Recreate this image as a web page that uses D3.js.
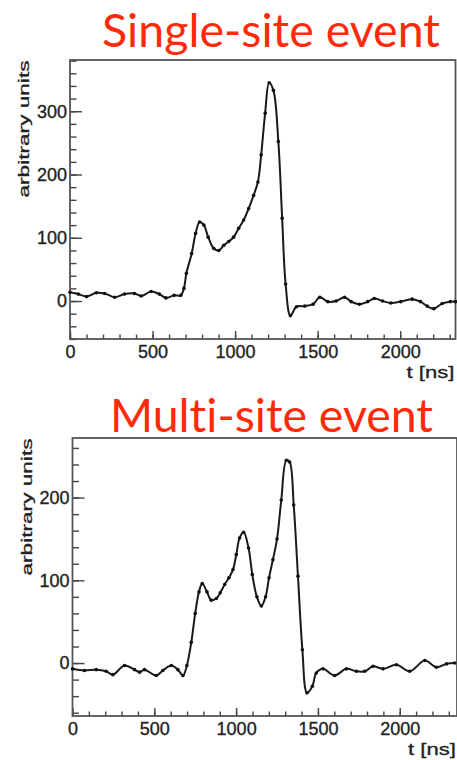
<!DOCTYPE html>
<html>
<head>
<meta charset="utf-8">
<script src="https://cdn.jsdelivr.net/npm/d3@7"></script>
<style>
  body { margin: 0; background: #fff; }
  svg { display: block; }
  .axis text { font-family: "Liberation Sans", Arial, sans-serif; font-size: 18px; fill: #222; stroke: #222; stroke-width: 0.35; }
  .axis line { stroke: #444; stroke-width: 1.4; }
  .title { font-family: Lato, "Open Sans", sans-serif; fill: #ff2a0a; font-variant-ligatures: none; font-feature-settings: "liga" 0, "clig" 0; }
  .axis-title { font-family: "Liberation Sans", Arial, sans-serif; fill: #222; stroke: #222; stroke-width: 0.3; }
</style>
</head>
<body>
<div id="chart"></div>
<script>
// single-site event waveform (t in ns, amplitude in arbitrary units)
const singleT = [0, 50, 100, 160, 210, 270, 330, 390, 431, 491, 541, 581, 631, 671, 690, 705, 737, 761, 785, 811,
  837, 871, 901, 931, 961, 991, 1022, 1052, 1082, 1112, 1138, 1158, 1182, 1206, 1232, 1262, 1285, 1306, 1335, 1372,
  1422, 1472, 1513, 1562, 1612, 1663, 1703, 1753, 1803, 1843, 1893, 1943, 2003, 2073, 2123, 2163, 2204, 2254, 2303, 2335];
const singleV = [14, 11, 7, 13, 12, 6, 11, 12, 8, 15, 11, 5, 9, 9, 20, 44, 75, 107, 125, 120,
  101, 83, 80, 88, 94, 101, 115, 128, 146, 167, 188, 231, 297, 345, 333, 252, 131, 27, -23, -9,
  -8, -5, 6, -1, 0, 6, -1, -5, -1, 4, 0, -3, -1, 3, -1, -8, -12, -4, -1, -1];

// multi-site event waveform
const multiT = [0, 73, 145, 206, 247, 318, 379, 410, 440, 512, 552, 604, 644, 675, 699, 726, 750, 773, 793, 822,
  848, 879, 903, 930, 956, 981, 1001, 1021, 1046, 1076, 1099, 1127, 1154, 1180, 1201, 1225, 1250, 1276, 1307, 1327,
  1352, 1378, 1405, 1433, 1466, 1490, 1531, 1602, 1674, 1735, 1786, 1837, 1898, 1980, 2061, 2153, 2224, 2286, 2336];
const multiV = [-7, -9, -8, -10, -14, -3, -8, -11, -8, -15, -9, -3, -8, -15, -3, 25, 60, 86, 96, 86,
  76, 78, 85, 95, 103, 113, 131, 151, 158, 139, 107, 80, 69, 80, 103, 125, 150, 197, 245, 243,
  191, 105, 16, -36, -28, -12, -7, -15, -7, -10, -10, -4, -7, -2, -10, 3, -5, -1, 0];

const xTicks = [0, 500, 1000, 1500, 2000];
const singleYTicks = [0, 100, 200, 300];
const multiYTicks = [0, 100, 200];

class WaveformPlot {

    constructor(_config, _t, _v) {
        this.config = {
            svg: _config.svg,
            frame: _config.frame,
            xDomain: _config.xDomain,
            yDomain: _config.yDomain,
            yTicks: _config.yTicks,
            yMinor: _config.yMinor,
            title: _config.title,
            titleX: _config.titleX,
            titleY: _config.titleY,
            titleLength: _config.titleLength
        };
        this.data = _t.map((t, i) => ({ t: t, v: _v[i] }));
        this.initVis();
    }

    initVis() {
        let vis = this;
        const f = vis.config.frame;

        vis.xScale = d3.scaleLinear().domain(vis.config.xDomain).range([f.left, f.right]);
        vis.yScale = d3.scaleLinear().domain(vis.config.yDomain).range([f.bottom, f.top]);

        vis.g = vis.config.svg.append('g');

        // minor ticks first, majors on top
        const xMinor = d3.range(0, vis.config.xDomain[1], 100);
        vis.g.append('g')
            .attr('class', 'axis')
            .attr('transform', `translate(0,${f.bottom})`)
            .call(d3.axisBottom(vis.xScale).tickValues(xMinor).tickSize(-4.5).tickFormat(''))
            .call(g => g.select('.domain').remove());

        vis.g.append('g')
            .attr('class', 'axis')
            .attr('transform', `translate(0,${f.bottom})`)
            .call(d3.axisBottom(vis.xScale).tickValues(xTicks).tickSize(-8).tickPadding(6).tickFormat(d3.format('d')))
            .call(g => g.select('.domain').remove());

        vis.g.append('g')
            .attr('class', 'axis')
            .attr('transform', `translate(${f.left},0)`)
            .call(d3.axisLeft(vis.yScale).tickValues(vis.config.yMinor).tickSize(-6.5).tickFormat(''))
            .call(g => g.select('.domain').remove());

        vis.g.append('g')
            .attr('class', 'axis')
            .attr('transform', `translate(${f.left},0)`)
            .call(d3.axisLeft(vis.yScale).tickValues(vis.config.yTicks).tickSize(-12).tickPadding(3).tickFormat(d3.format('d')))
            .call(g => g.select('.domain').remove());

        vis.g.append('rect')
            .attr('x', f.left)
            .attr('y', f.top)
            .attr('width', f.right - f.left)
            .attr('height', f.bottom - f.top)
            .attr('fill', 'none')
            .attr('stroke', '#555')
            .attr('stroke-width', 1.8);

        vis.g.append('text')
            .attr('class', 'axis-title')
            .attr('transform', `translate(${f.left - 41},${f.top + 0.5}) rotate(-90)`)
            .attr('text-anchor', 'end')
            .attr('font-size', 15)
            .attr('textLength', 137)
            .attr('lengthAdjust', 'spacingAndGlyphs')
            .text('arbitrary units');

        vis.g.append('text')
            .attr('class', 'axis-title')
            .attr('x', f.right - 49)
            .attr('y', f.bottom + 39)
            .attr('font-size', 17)
            .attr('textLength', 48)
            .attr('lengthAdjust', 'spacingAndGlyphs')
            .text('t [ns]');

        vis.g.append('text')
            .attr('class', 'title')
            .attr('x', vis.config.titleX)
            .attr('y', vis.config.titleY)
            .attr('font-size', 47)
            .attr('textLength', vis.config.titleLength)
            .attr('lengthAdjust', 'spacingAndGlyphs')
            .text(vis.config.title);

        vis.renderVis();
    }

    renderVis() {
        let vis = this;

        const line = d3.line()
            .x(d => vis.xScale(d.t))
            .y(d => vis.yScale(d.v))
            .curve(d3.curveCatmullRom.alpha(0.5));

        vis.g.append('path')
            .datum(vis.data)
            .attr('fill', 'none')
            .attr('stroke', '#1a1a1a')
            .attr('stroke-width', 2)
            .attr('d', line);

        vis.g.selectAll('.pt')
            .data(vis.data)
            .join('circle')
            .attr('class', 'pt')
            .attr('cx', d => vis.xScale(d.t))
            .attr('cy', d => vis.yScale(d.v))
            .attr('r', 1.8)
            .attr('fill', '#111');
    }
}

const svg = d3.select('#chart')
    .append('svg')
    .attr('width', 457)
    .attr('height', 760);

new WaveformPlot({
    svg: svg,
    frame: { left: 70, top: 60, right: 455.5, bottom: 339 },
    xDomain: [0, 2335],
    yDomain: [-60, 381],
    yTicks: singleYTicks,
    yMinor: d3.range(-60, 381, 20),
    title: 'Single-site event',
    titleX: 102,
    titleY: 46.5,
    titleLength: 338
}, singleT, singleV);

new WaveformPlot({
    svg: svg,
    frame: { left: 72.5, top: 438, right: 457, bottom: 716 },
    xDomain: [0, 2350],
    yDomain: [-64, 272],
    yTicks: multiYTicks,
    yMinor: d3.range(-60, 272, 20),
    title: 'Multi-site event',
    titleX: 110,
    titleY: 432,
    titleLength: 323
}, multiT, multiV);
</script>
</body>
</html>
